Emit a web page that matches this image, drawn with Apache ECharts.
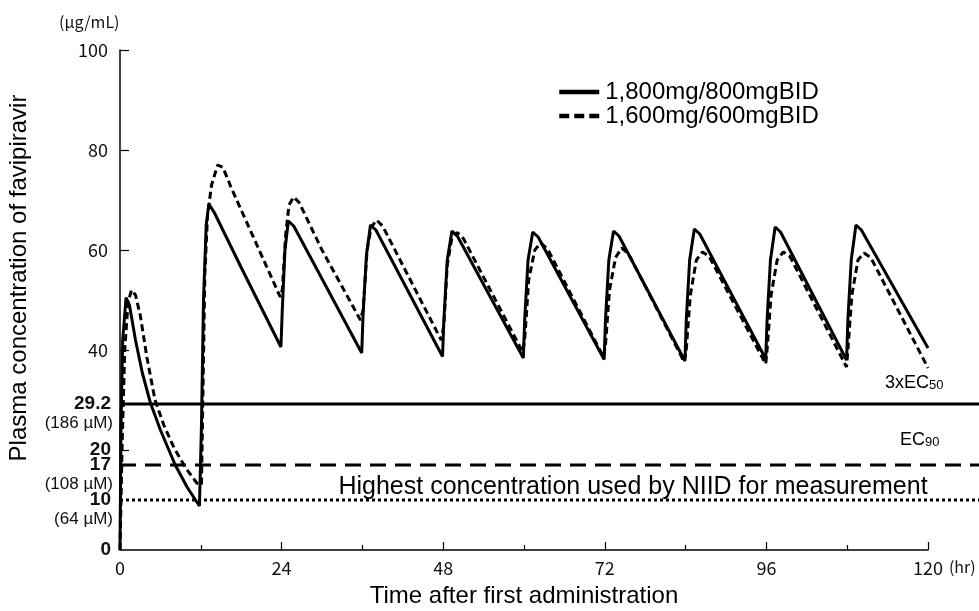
<!DOCTYPE html>
<html>
<head>
<meta charset="utf-8">
<title>Plasma concentration of favipiravir</title>
<script src="https://cdn.jsdelivr.net/npm/echarts@6/dist/echarts.min.js"></script>
<style>
  html, body { margin: 0; padding: 0; background: #fff; }
  #main { width: 979px; height: 611px; }
</style>
</head>
<body>
<div id="main"></div>
<script>
// 两种给药方案 [时间(hr), 浓度(µg/mL)]
var doseNames = ['1,800mg/800mgBID', '1,600mg/600mgBID'];

var solid1800 = [
    [0, 0], [0.15, 25], [0.4, 42], [0.9, 50.5], [1.4, 49], [2.3, 42], [3.3, 35.5], [4.5, 29.5],
    [6, 24], [8.2, 17], [10, 12.5], [11.8, 8.8],
    [12.1, 25], [12.4, 50], [12.8, 65], [13.2, 69.2], [14, 67.5], [18, 56.5], [23.9, 40.6],
    [24.1, 48], [24.5, 60], [25, 65.8], [25.8, 64.8], [35.9, 39.4],
    [36.1, 47], [36.6, 59], [37.2, 65], [38, 64], [47.9, 38.7],
    [48.1, 46], [48.6, 58], [49.3, 63.8], [50.1, 62.8], [59.9, 38.4],
    [60.1, 46], [60.6, 58], [61.3, 63.6], [62.1, 62.6], [71.9, 38.1],
    [72.1, 46], [72.6, 58], [73.3, 63.8], [74.1, 62.8], [83.9, 37.8],
    [84.1, 46], [84.6, 58], [85.3, 64.2], [86.1, 63.2], [95.9, 38.2],
    [96.1, 46], [96.6, 58], [97.3, 64.6], [98.1, 63.6], [107.9, 38],
    [108.1, 46], [108.6, 58], [109.3, 65], [110.1, 64], [120, 40.4]
];

var dashed1600 = [
    [0, 0], [0.3, 20], [0.7, 40], [1.2, 49.5], [1.7, 52], [2.3, 51], [3, 47], [4, 38.5], [5.2, 30],
    [6.5, 25], [8, 20.5], [9.7, 16.5], [11.4, 13.4],
    [12.1, 13], [12.3, 30], [12.6, 55], [13, 67], [13.6, 73], [14.5, 77], [15.3, 76.5], [16.5, 72.5],
    [20, 62], [23.8, 50.6],
    [24.1, 52], [24.6, 63], [25.1, 69], [25.8, 70.6], [26.6, 69.5], [30, 60], [35.7, 46],
    [36.1, 48], [36.7, 60], [37.3, 64.5], [38.1, 66], [39, 64.8], [47.7, 42],
    [48.1, 45], [48.6, 57], [49.3, 62.5], [50.1, 63.5], [51, 62.3], [59.8, 39.6],
    [60.1, 42], [60.7, 54], [61.6, 60], [62.5, 61.4], [63.5, 60.2], [71.8, 38.6],
    [72.1, 41], [72.7, 52], [73.6, 58.5], [74.5, 60.4], [75.5, 59.3], [83.8, 37.6],
    [84.1, 40], [84.7, 51], [85.6, 58], [86.5, 59.6], [87.5, 58.7], [95.9, 37.2],
    [96.1, 40], [96.7, 51], [97.6, 58], [98.5, 59.6], [99.5, 58.7], [107.9, 36.6],
    [108.1, 40], [108.7, 51], [109.6, 58], [110.5, 59.4], [111.5, 58.5], [120, 36.4]
];

// 参考浓度线: 3xEC50, EC90, NIID 最高测定浓度
var thresholdValues = [29.2, 17, 10];
var thresholdMicroMolar = { 29.2: '(186 µM)', 17: '(108 µM)', 10: '(64 µM)' };

// 坐标轴刻度
var xTicks = [0, 24, 48, 72, 96, 120];
var yLabelValues = [0, 10, 17, 20, 29.2, 40, 60, 80, 100];
var yTickValues = [20, 40, 60, 80, 100];

var SANS = 'Liberation Sans';
var JP = 'Noto Sans CJK JP';

var chart = echarts.init(document.getElementById('main'));

var thresholdStyles = [
    { width: 3, type: 'solid' },
    { width: 3, type: [16, 9] },
    { width: 3, type: [3, 3] }
];

var thresholdSeries = thresholdValues.map(function (v, i) {
    return {
        type: 'line',
        xAxisIndex: 1,
        yAxisIndex: 1,
        silent: true,
        symbol: 'none',
        data: [[0, v], [1, v]],
        lineStyle: { color: '#000', width: thresholdStyles[i].width, type: thresholdStyles[i].type }
    };
});

var subStyle = {
    m: { fontFamily: SANS, fontSize: 18, color: '#000', verticalAlign: 'top', lineHeight: 18 },
    sub: { fontFamily: SANS, fontSize: 13, color: '#000', verticalAlign: 'bottom', lineHeight: 13, padding: [7, 0, 0, 0] }
};

var option = {
    animation: false,
    backgroundColor: '#fff',
    grid: [
        { left: 120, right: 51, top: 50, bottom: 61 },
        { left: 120, right: 0, top: 50, bottom: 61 }
    ],
    legend: {
        data: [
            { name: doseNames[0] },
            { name: doseNames[1], lineStyle: { type: [10, 5] } }
        ],
        orient: 'vertical',
        left: 552,
        top: 75,
        itemWidth: 40,
        itemHeight: 14,
        itemGap: 0,
        // 线型图例不要圆点
        itemStyle: { opacity: 0 },
        lineStyle: { width: 4.5 },
        textStyle: { fontFamily: SANS, fontSize: 24, color: '#000', padding: [0, 0, 0, 1] }
    },
    xAxis: [
        {
            type: 'value',
            gridIndex: 0,
            min: 0,
            max: 120,
            interval: 24,
            name: '(hr)',
            nameLocation: 'end',
            nameGap: 20,
            nameTextStyle: { fontFamily: JP, fontSize: 16, color: '#111', verticalAlign: 'top', padding: [9, 0, 0, 0] },
            axisLine: { lineStyle: { color: '#000', width: 1.5 } },
            axisTick: { inside: true, length: 8, lineStyle: { color: '#000', width: 1.2 } },
            minorTick: { show: true, splitNumber: 2, length: 5, lineStyle: { color: '#000', width: 1.2 } },
            splitLine: { show: false },
            axisLabel: {
                margin: 9,
                fontFamily: JP,
                fontSize: 18,
                color: '#111',
                customValues: xTicks
            }
        },
        { type: 'value', gridIndex: 1, min: 0, max: 1, show: false }
    ],
    yAxis: [
        {
            type: 'value',
            gridIndex: 0,
            min: 0,
            max: 100,
            axisLine: { show: true, lineStyle: { color: '#000', width: 1.5 } },
            axisTick: { show: true, inside: true, length: 9, customValues: yTickValues, lineStyle: { color: '#000', width: 1.2 } },
            splitLine: { show: false },
            axisLabel: {
                margin: 7,
                customValues: yLabelValues,
                formatter: function (v) {
                    var sub = thresholdMicroMolar[v];
                    if (sub) return '{s| }\n{b|' + v + '}\n{u|' + sub + '}';
                    if (v === 0 || v === 20) return '{b|' + v + '}';
                    return '{n|' + v + '}';
                },
                rich: {
                    n: { fontFamily: JP, fontSize: 18, color: '#111', padding: [0, 5, 0, 0] },
                    b: { fontFamily: SANS, fontSize: 19, fontWeight: 'bold', color: '#111', lineHeight: 19, padding: [0, 2, 0, 0] },
                    u: { fontFamily: SANS, fontSize: 17, color: '#111', lineHeight: 19 },
                    s: { fontSize: 16, lineHeight: 19 }
                }
            }
        },
        { type: 'value', gridIndex: 1, min: 0, max: 100, show: false }
    ],
    series: thresholdSeries.concat([
        {
            name: doseNames[0],
            type: 'line',
            symbol: 'none',
            data: solid1800,
            lineStyle: { color: '#000', width: 3, type: 'solid' },
            itemStyle: { color: '#000' },
            z: 5
        },
        {
            name: doseNames[1],
            type: 'line',
            symbol: 'none',
            data: dashed1600,
            lineStyle: { color: '#000', width: 3, type: [7, 4] },
            itemStyle: { color: '#000' },
            z: 4
        }
    ]),
    graphic: [
        {
            type: 'text', left: 59, top: 14,
            style: { text: '(µg/mL)', font: '16px "Noto Sans CJK JP"', fill: '#111' }
        },
        {
            type: 'text', x: 19, y: 278, rotation: Math.PI / 2,
            style: { text: 'Plasma concentration of favipiravir', font: '24px "Liberation Sans"', fill: '#000', align: 'center', verticalAlign: 'middle' }
        },
        {
            type: 'text', x: 524, y: 596,
            style: { text: 'Time after first administration', font: '24px "Liberation Sans"', fill: '#000', align: 'center', verticalAlign: 'middle' }
        },
        {
            type: 'text', x: 633, y: 487,
            style: { text: 'Highest concentration used by NIID for measurement', font: '25px "Liberation Sans"', fill: '#000', align: 'center', verticalAlign: 'middle' }
        },
        {
            type: 'text', x: 885, y: 374,
            style: { text: '{m|3xEC}{sub|50}', rich: subStyle }
        },
        {
            type: 'text', x: 900, y: 431,
            style: { text: '{m|EC}{sub|90}', rich: subStyle }
        }
    ]
};

chart.setOption(option);
</script>
</body>
</html>
